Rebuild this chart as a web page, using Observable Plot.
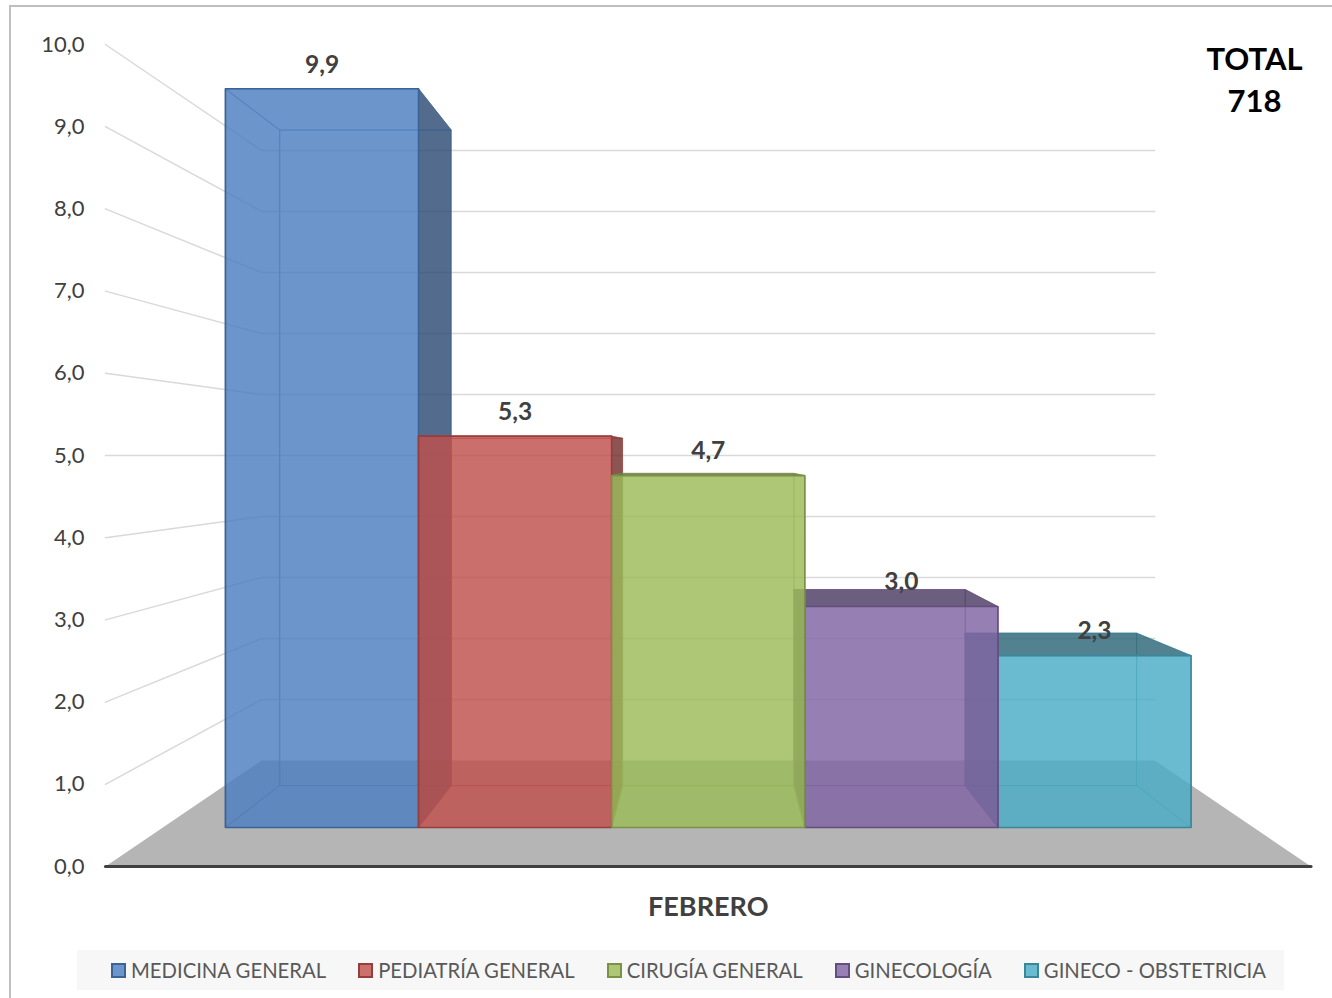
<!DOCTYPE html>
<html lang="es">
<head>
<meta charset="utf-8">
<script src="https://cdn.jsdelivr.net/npm/d3@7"></script>
<script src="https://cdn.jsdelivr.net/npm/@observablehq/plot@0.6"></script>
<style>
  html,body{margin:0;padding:0;background:#fff;overflow:hidden}
  #page{position:relative;width:1332px;height:998px;font-family:Lato,sans-serif}
  #edgeTop{position:absolute;left:9px;top:5px;right:0;height:2px;background:#bfbfbf}
  #edgeLeft{position:absolute;left:9px;top:5px;bottom:0;width:2px;background:#bfbfbf}
  #chart{position:absolute;left:0;top:0}
  #legend{position:absolute;left:77px;top:950px;width:1173px;height:40px;padding-left:34px;background:#f7f7f7;
    display:flex;align-items:center;gap:32px;font-size:20.3px;color:#595959;white-space:nowrap}
  #legend .item{display:flex;align-items:center;gap:5px}
  #legend .sw{display:inline-block;width:11px;height:11px;border-width:2px;border-style:solid}
</style>
</head>
<body>
<div id="page">
  <div id="chart"></div>
  <div id="edgeTop"></div>
  <div id="edgeLeft"></div>
  <div id="legend"></div>
</div>
<script>
const categories = ["MEDICINA GENERAL","PEDIATRÍA GENERAL","CIRUGÍA GENERAL","GINECOLOGÍA","GINECO - OBSTETRICIA"];
const values = [9.93, 5.26, 4.73, 2.97, 2.31];
const colors = ["#4c7fbf","#c0504d","#9bbb59","#8064a2","#4bacc6"];
const yTicks = [0,1,2,3,4,5,6,7,8,9,10];
const axisTitle = ["FEBRERO"];
const totalLabel = ["TOTAL","718"];

// Perspective of the 3-D chart: every point is (category position, value, depth scale)
const mid = categories.length / 2, eye = 5;
const sFront = 0.905, sBack = 0.803, sWall = 0.742, wallHalf = 2.825, wallBackHalf = 2.82;
const P = (X, v, s) => ({x: mid + (X - mid) * s, y: eye + (v - eye) * s});
const shade = (c, k) => { const r = d3.rgb(c); return d3.rgb(r.r * k, r.g * k, r.b * k).formatHex(); };

// Floor and gridlines
const floor = [P(mid - wallHalf, 0, 1), P(mid + wallHalf, 0, 1), P(mid + wallBackHalf, 0, sWall), P(mid - wallBackHalf, 0, sWall)];
const gridMarks = yTicks.filter(v => v > 0).map(v =>
  Plot.line([P(mid - wallHalf, v, 1), P(mid - wallBackHalf, v, sWall), P(mid + wallBackHalf, v, sWall)],
    {x: "x", y: "y", stroke: "#d9d9d9", strokeWidth: 1.5, curve: "linear"}));

function barMarks(i) {
  const v = values[i], c = colors[i], dark = shade(c, 0.6), edge = shade(c, 0.78);
  const X0 = i, X1 = i + 1;
  const face = (pts, fill, a, strokeA, sw) => Plot.line(pts, {
    x: "x", y: "y", curve: "linear-closed", fill, fillOpacity: a,
    stroke: edge, strokeOpacity: strokeA, strokeWidth: sw, strokeLinejoin: "round"
  });
  const back  = [P(X0,0,sBack),P(X1,0,sBack),P(X1,v,sBack),P(X0,v,sBack)];
  const front = [P(X0,0,sFront),P(X1,0,sFront),P(X1,v,sFront),P(X0,v,sFront)];
  const left  = [P(X0,0,sFront),P(X0,0,sBack),P(X0,v,sBack),P(X0,v,sFront)];
  const right = [P(X1,0,sFront),P(X1,0,sBack),P(X1,v,sBack),P(X1,v,sFront)];
  const top   = [P(X0,v,sFront),P(X1,v,sFront),P(X1,v,sBack),P(X0,v,sBack)];
  const bottom= [P(X0,0,sFront),P(X1,0,sFront),P(X1,0,sBack),P(X0,0,sBack)];
  const hiddenA = 0.04, seenA = 0.82;
  return [
    face(back, c, hiddenA, 0.45, 1),
    face(bottom, c, hiddenA, 0.45, 1),
    face(left, X0 > mid ? dark : c, X0 > mid ? seenA : hiddenA, 0.5, 1),
    face(right, X1 < mid ? dark : c, X1 < mid ? seenA : hiddenA, 0.5, 1),
    face(top, v < eye ? dark : c, v < eye ? seenA : hiddenA, 0.6, 1),
    face(front, c, seenA, 1, 1.6)
  ];
}

// Painter's order: bars nearer the centre of the view cover the outer ones
const order = d3.range(categories.length).sort((a, b) =>
  Math.abs(b + 0.5 - mid) - Math.abs(a + 0.5 - mid) || a - b);

const labels = categories.map((name, i) => ({...P(i + 0.5, values[i], sFront), text: values[i].toFixed(1).replace(".", ",")}));

const chart = Plot.plot({
  width: 1332, height: 945,
  marginLeft: 86, marginRight: 0, marginTop: 0, marginBottom: 0,
  style: {background: "transparent", overflow: "visible", fontFamily: "Lato, sans-serif"},
  x: {domain: [0, 5], range: [174.3, 1241.2], axis: null},
  y: {domain: [0, 10], range: [866, 44], axis: null},
  marks: [
    Plot.line(floor, {x: "x", y: "y", curve: "linear-closed", fill: "#b5b5b5", stroke: "none"}),
    ...gridMarks,
    ...order.flatMap(barMarks),
    Plot.line([floor[0], floor[1]], {x: "x", y: "y", stroke: "#404040", strokeWidth: 3}),
    Plot.axisY({ticks: yTicks, tickFormat: d => d.toFixed(1).replace(".", ","), tickSize: 0, tickPadding: 2,
      label: null, fontSize: 22, fill: "#404040"}),
    Plot.text(labels, {x: "x", y: "y", text: "text", dy: -24, fontSize: 24.5, fontWeight: 700, fill: "#404040"}),
    Plot.text(axisTitle, {x: () => mid, frameAnchor: "bottom", dy: -30, fontSize: 27, fontWeight: 700, fill: "#404040"}),
    Plot.text([totalLabel.join("\n")], {frameAnchor: "top-right", dx: -78, dy: 40, textAnchor: "middle", lineHeight: 1.355,
      fontSize: 31, fontWeight: 700, fill: "#000"})
  ]
});
document.getElementById("chart").append(chart);

const legend = document.getElementById("legend");
categories.forEach((name, i) => {
  const item = document.createElement("span");
  item.className = "item";
  const sw = document.createElement("span");
  sw.className = "sw";
  sw.style.background = d3.interpolateRgb(colors[i], "#fff")(0.18);
  sw.style.borderColor = shade(colors[i], 0.78);
  item.append(sw, document.createTextNode(name));
  legend.append(item);
});
</script>
</body>
</html>
